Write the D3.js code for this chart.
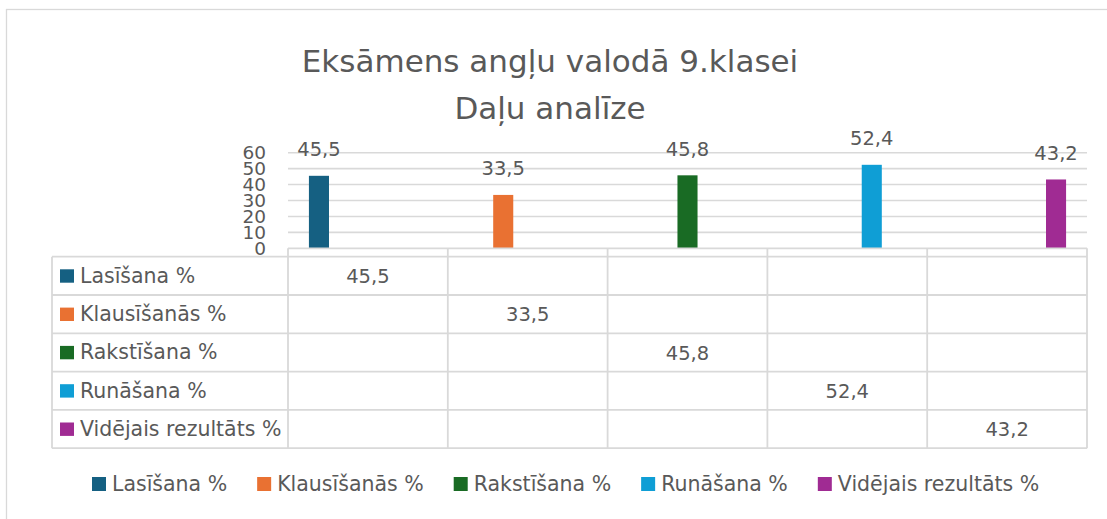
<!DOCTYPE html>
<html>
<head>
<meta charset="utf-8">
<script src="https://cdn.jsdelivr.net/npm/d3@7"></script>
<style>
  body { margin: 0; background: #fff; }
  svg { display: block; font-family: "DejaVu Sans", sans-serif; }
  text { fill: #595959; }
</style>
</head>
<body>
<div id="chart"></div>
<script>
/**
 * DATA
 * */
const titleLines = ["Eksāmens angļu valodā 9.klasei", "Daļu analīze"];
const categories = [0, 1, 2, 3, 4]; // category labels are empty in the chart
const seriesNames = ["Lasīšana %", "Klausīšanās %", "Rakstīšana %", "Runāšana %", "Vidējais rezultāts %"];
const seriesColors = ["#156082", "#E97132", "#196B24", "#0F9ED5", "#A02B93"];
const lasisana = [45.5, null, null, null, null];
const klausisanas = [null, 33.5, null, null, null];
const rakstisana = [null, null, 45.8, null, null];
const runasana = [null, null, null, 52.4, null];
const videjais = [null, null, null, null, 43.2];
const yTicks = [0, 10, 20, 30, 40, 50, 60];

const seriesValues = [lasisana, klausisanas, rakstisana, runasana, videjais];

/**
 * CONSTANTS
 * */
const width = 1107,
  height = 519;
const plot = { left: 288, right: 1087, top: 152.7, bottom: 248.3 };
const table = { left: 52, top: 256.7, rowH: 38.3 };
const grey = "#D9D9D9";
const fmt = v => d3.format(".1f")(v).replace(".", ",");

const svg = d3.select("#chart")
  .append("svg")
  .attr("width", width)
  .attr("height", height);

// outer chart frame (runs past the cropped right/bottom edges)
svg.append("rect")
  .attr("x", 6.5).attr("y", 9.5)
  .attr("width", width + 20).attr("height", height + 20)
  .attr("fill", "none")
  .attr("stroke", grey)
  .attr("stroke-width", 1.3);

// title
svg.append("text")
  .attr("x", 550)
  .attr("text-anchor", "middle")
  .style("font-size", "31px")
  .selectAll("tspan")
  .data(titleLines)
  .join("tspan")
  .attr("x", 550)
  .attr("y", (d, i) => 72 + i * 47)
  .text(d => d);

// scales
const x0 = d3.scaleBand()
  .domain(categories)
  .range([plot.left, plot.right]);
const x1 = d3.scaleBand()
  .domain(d3.range(seriesNames.length))
  .range([0, x0.bandwidth()])
  .paddingInner(0.18)
  .paddingOuter(0.855);
const y = d3.scaleLinear()
  .domain([0, 60])
  .range([plot.bottom, plot.top]);

// gridlines
svg.append("g")
  .selectAll("line")
  .data(yTicks.filter(d => d > 0))
  .join("line")
  .attr("x1", plot.left).attr("x2", plot.right)
  .attr("y1", d => y(d)).attr("y2", d => y(d))
  .attr("stroke", grey)
  .attr("stroke-width", 1.6);

// y axis labels (they crowd together in the original too)
const yAxis = svg.append("g")
  .attr("transform", `translate(${plot.left - 22},0)`)
  .call(d3.axisLeft(y).tickValues(yTicks).tickSize(0).tickPadding(0));
yAxis.select(".domain").remove();
yAxis.selectAll("text")
  .attr("fill", "#595959")
  .style("font-size", "18.5px")
  .style("font-family", "DejaVu Sans, sans-serif");

// bars
const barData = [];
seriesValues.forEach((vals, s) => {
  vals.forEach((v, c) => {
    if (v !== null) barData.push({ s, c, v });
  });
});

svg.append("g")
  .selectAll("rect")
  .data(barData)
  .join("rect")
  .attr("x", d => x0(d.c) + x1(d.s))
  .attr("width", x1.bandwidth())
  .attr("y", d => y(d.v))
  .attr("height", d => y(0) - y(d.v))
  .attr("fill", d => seriesColors[d.s]);

// data labels
svg.append("g")
  .selectAll("text")
  .data(barData)
  .join("text")
  .attr("x", d => x0(d.c) + x1(d.s) + x1.bandwidth() / 2)
  .attr("y", d => y(d.v) - 19.5)
  .attr("text-anchor", "middle")
  .style("font-size", "19.5px")
  .text(d => fmt(d.v));

// data table
const tableBottom = table.top + table.rowH * seriesNames.length;
const tg = svg.append("g").attr("stroke", grey).attr("stroke-width", 1.8);

// axis line + category strip
tg.append("line")
  .attr("x1", plot.left).attr("x2", plot.right)
  .attr("y1", plot.bottom).attr("y2", plot.bottom);

// horizontal row lines
tg.selectAll("line.row")
  .data(d3.range(seriesNames.length + 1))
  .join("line")
  .attr("class", "row")
  .attr("x1", table.left).attr("x2", plot.right)
  .attr("y1", i => table.top + i * table.rowH)
  .attr("y2", i => table.top + i * table.rowH);

// vertical column lines
const colEdges = categories.map(c => x0(c)).concat([plot.right]);
tg.selectAll("line.col")
  .data(colEdges)
  .join("line")
  .attr("class", "col")
  .attr("x1", d => d).attr("x2", d => d)
  .attr("y1", plot.bottom).attr("y2", tableBottom);
tg.append("line")
  .attr("x1", table.left).attr("x2", table.left)
  .attr("y1", table.top).attr("y2", tableBottom);

// row headers
const rows = svg.append("g")
  .selectAll("g")
  .data(seriesNames)
  .join("g")
  .attr("transform", (d, i) => `translate(${table.left},${table.top + i * table.rowH})`);
rows.append("rect")
  .attr("x", 8).attr("y", 12.6)
  .attr("width", 14).attr("height", 13.4)
  .attr("fill", (d, i) => seriesColors[i]);
rows.append("text")
  .attr("x", 28).attr("y", 26)
  .style("font-size", "20.5px")
  .text(d => d);

// table values
svg.append("g")
  .selectAll("text")
  .data(barData)
  .join("text")
  .attr("x", d => x0(d.c) + x0.bandwidth() / 2)
  .attr("y", d => table.top + d.s * table.rowH + 26.3)
  .attr("text-anchor", "middle")
  .style("font-size", "19.5px")
  .text(d => fmt(d.v));

// legend
const legend = svg.append("g").attr("transform", "translate(92,491)");
let lx = 0;
seriesNames.forEach((name, i) => {
  const item = legend.append("g").attr("transform", `translate(${lx},0)`);
  item.append("rect")
    .attr("x", 0).attr("y", -14)
    .attr("width", 14).attr("height", 14)
    .attr("fill", seriesColors[i]);
  const t = item.append("text")
    .attr("x", 20).attr("y", 0)
    .style("font-size", "20.5px")
    .text(name);
  lx += 20 + t.node().getComputedTextLength() + 30;
});
</script>
</body>
</html>
